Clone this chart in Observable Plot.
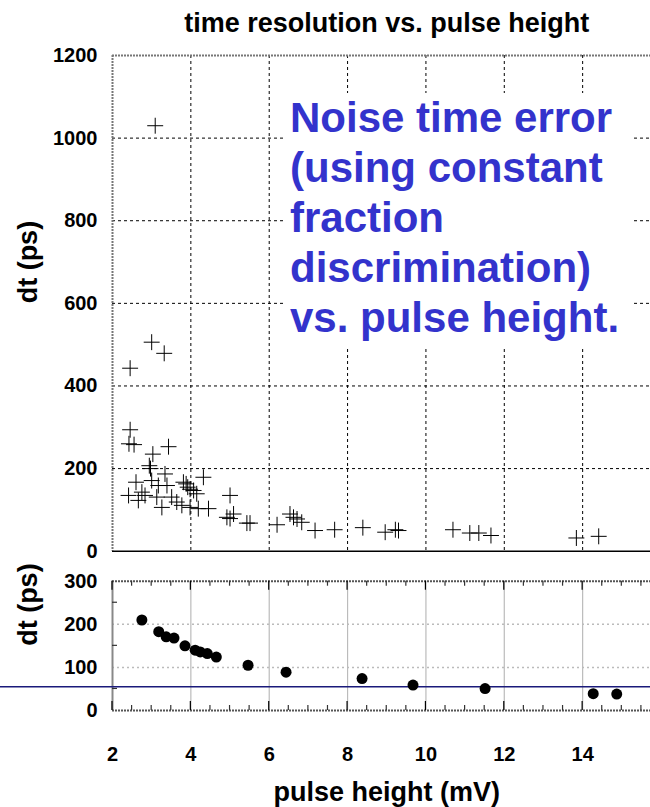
<!DOCTYPE html>
<html>
<head>
<meta charset="utf-8">
<script src="https://cdn.jsdelivr.net/npm/d3@7"></script>
<script src="https://cdn.jsdelivr.net/npm/@observablehq/plot@0.6"></script>
<style>
  html, body { margin: 0; padding: 0; background: #fff; overflow: hidden; }
  #wrap { position: relative; width: 650px; height: 807px; overflow: hidden; background: #fff;
          font-family: "Liberation Sans", Arial, Helvetica, sans-serif; }
  #wrap svg { max-width: none !important; }
  #top, #bottom { position: absolute; left: 0; }
  #top { top: 0; }
  #bottom { top: 560px; }
  #note { position: absolute; left: 286px; top: 93px; width: 344px; padding: 0 0 4px 4px;
          background: #fff; color: #3333cc; font-weight: bold; font-size: 42px; line-height: 50px;
          white-space: nowrap; }
</style>
</head>
<body>
<div id="wrap">
  <div id="top"></div>
  <div id="bottom"></div>
  <div id="note"></div>
</div>
<script>
// ---------------- data ----------------
const title = "time resolution vs. pulse height";
const xLabel = "pulse height (mV)";
const yLabel = "dt (ps)";
const noteLines = ["Noise time error", "(using constant", "fraction", "discrimination)", "vs. pulse height."];

// top panel: individual measurements (pulse height mV, dt ps)
const crossX = [3.09, 3.0, 3.32, 2.45, 2.45, 2.42, 2.55, 3.43, 3.03, 2.94, 2.97, 4.32, 3.34, 5.0,
                2.6, 3.0, 3.17, 3.39, 3.81, 3.88, 3.92, 3.98, 4.07, 4.15, 2.41, 2.75, 2.66, 2.83,
                3.13, 3.26, 3.51, 3.64, 3.77, 3.98, 4.19, 4.45, 4.92, 5.09, 5.0, 5.43, 5.51, 6.2,
                6.53, 6.62, 6.71, 6.83, 7.17, 7.67, 8.39, 8.96, 9.22, 9.30, 10.69, 11.12, 11.35,
                11.66, 13.84, 14.41];
const crossY = [1030, 506, 479, 443, 294, 260, 258, 253, 235, 207, 200, 179, 187, 135,
                167, 171, 159, 159, 167, 163, 155, 150, 147, 139, 135, 143, 123, 135,
                131, 106, 131, 119, 111, 106, 103, 103, 82, 90, 79, 68, 68, 64,
                90, 82, 78, 70, 50, 52, 57, 46, 52, 50, 52, 44, 44,
                38, 32, 36];

// bottom panel: noise time error vs pulse height
const dotX = [2.75, 3.18, 3.37, 3.57, 3.85, 4.11, 4.24, 4.42, 4.65, 5.46, 6.43, 8.37, 9.67, 11.51, 14.27, 14.87];
const dotY = [210, 183, 171, 168, 150, 140, 136, 132, 124, 105, 89, 74, 59, 51, 39, 38];
const refLevel = 54;

// ticks
const xDomain = [2, 16];
const xMajor = [2, 4, 6, 8, 10, 12, 14, 16];
const xGrid = [4, 6, 8, 10, 12, 14];
const xMinor = d3.range(2.5, 16, 0.5).filter(v => v % 2 !== 0);
const yTopTicks = [0, 200, 400, 600, 800, 1000, 1200];
const yTopGrid = [200, 400, 600, 800, 1000];
const yBotTicks = [0, 100, 200, 300];
const yBotGrid = [100, 200];
const yBotMinor = [50, 150, 250];

// ---------------- rendering ----------------
const FONT = '"Liberation Sans", Arial, Helvetica, sans-serif';
const W = 680; // wider than window; right edge is clipped like the reference
const crosses = crossX.map((x, i) => ({x, y: crossY[i]}));
const dots = dotX.map((x, i) => ({x, y: dotY[i]}));

document.getElementById("note").innerHTML = noteLines.join("<br>");

const baseStyle = {fontFamily: FONT, fontSize: "20px", fontWeight: "bold", color: "#000",
                   background: "transparent", maxWidth: "none", overflow: "visible"};

const topPlot = Plot.plot({
  width: W, height: 575,
  marginLeft: 112, marginRight: 19.5, marginTop: 55, marginBottom: 24.3,
  style: baseStyle,
  x: {domain: xDomain, axis: null},
  y: {domain: [0, 1200], ticks: yTopTicks, tickSize: 0, tickPadding: 15, tickFormat: d => String(d), label: null},
  marks: [
    Plot.ruleX(xGrid, {stroke: "#000", strokeWidth: 1, strokeDasharray: "3,3"}),
    Plot.ruleY(yTopGrid, {stroke: "#000", strokeWidth: 1, strokeDasharray: "3,3"}),
    Plot.ruleX([xDomain[0]], {stroke: "#777", strokeWidth: 2, strokeDasharray: "2,1"}),
    Plot.ruleY([1200], {stroke: "#777", strokeWidth: 2, strokeDasharray: "2,1"}),
    Plot.ruleY([0], {stroke: "#000", strokeWidth: 1.5}),
    Plot.dot(crosses, {x: "x", y: "y", symbol: "plus", r: 5.2, stroke: "#000", strokeWidth: 1}),
    Plot.text([title], {frameAnchor: "top", dy: -24, lineAnchor: "bottom", fontSize: 27, fontWeight: "bold"}),
    Plot.text([yLabel], {frameAnchor: "left", dx: -84, rotate: -90, fontSize: 27, fontWeight: "bold"})
  ]
});
document.getElementById("top").appendChild(topPlot);

// inward tick marks drawn from the plot's own scales
function innerTicks() {
  return (index, {x, y}, values, dim) => {
    const g = d3.create("svg:g").attr("stroke", "#333").attr("stroke-width", 1.2);
    const top = dim.marginTop, bot = dim.height - dim.marginBottom, left = dim.marginLeft;
    for (const v of xMinor) {
      const px = x(v);
      g.append("line").attr("x1", px).attr("x2", px).attr("y1", top).attr("y2", top + 5);
      g.append("line").attr("x1", px).attr("x2", px).attr("y1", bot).attr("y2", bot - 5);
    }
    for (const v of xMajor) {
      const px = x(v);
      g.append("line").attr("x1", px).attr("x2", px).attr("y1", top).attr("y2", top + 9).attr("stroke", "#000");
      g.append("line").attr("x1", px).attr("x2", px).attr("y1", bot).attr("y2", bot - 9).attr("stroke", "#000");
    }
    for (const v of yBotMinor) {
      const py = y(v);
      g.append("line").attr("x1", left).attr("x2", left + 5).attr("y1", py).attr("y2", py);
    }
    return g.node();
  };
}
function refLine() {
  return (index, {y}, values, dim) => {
    const py = y(refLevel);
    return d3.create("svg:line").attr("x1", 0).attr("x2", dim.width).attr("y1", py).attr("y2", py)
      .attr("stroke", "#1a1a7a").attr("stroke-width", 1.5).node();
  };
}

const botPlot = Plot.plot({
  width: W, height: 247,
  marginLeft: 112, marginRight: 19.5, marginTop: 20.7, marginBottom: 97,
  style: baseStyle,
  x: {domain: xDomain, ticks: xMajor, tickSize: 0, tickPadding: 36, tickFormat: d => String(d), label: null},
  y: {domain: [0, 300], ticks: yBotTicks, tickSize: 0, tickPadding: 15, tickFormat: d => String(d), label: null},
  marks: [
    Plot.ruleY(yBotGrid, {stroke: "#bbb", strokeWidth: 1.5, strokeDasharray: "2,3"}),
    Plot.ruleX(xGrid, {stroke: "#bbb", strokeWidth: 1.2}),
    Plot.ruleX([xDomain[0]], {stroke: "#888", strokeWidth: 2}),
    Plot.ruleY([0, 300], {stroke: "#555", strokeWidth: 2, strokeDasharray: "2,1"}),
    innerTicks(),
    refLine(),
    Plot.dot(dots, {x: "x", y: "y", r: 5.5, fill: "#000"}),
    Plot.text([yLabel], {frameAnchor: "left", dx: -84, rotate: -90, fontSize: 27, fontWeight: "bold"}),
    Plot.text([xLabel], {frameAnchor: "bottom", dy: 90, lineAnchor: "bottom", fontSize: 27, fontWeight: "bold"})
  ]
});
document.getElementById("bottom").appendChild(botPlot);
</script>
</body>
</html>
